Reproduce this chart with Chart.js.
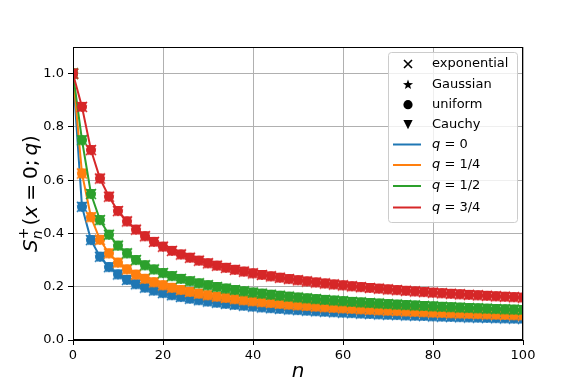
<!DOCTYPE html>
<html>
<head>
<meta charset="utf-8">
<script src="https://cdn.jsdelivr.net/npm/chart.js@4.4.0/dist/chart.umd.min.js"></script>
<style>
  html, body { margin: 0; padding: 0; background: #fff; }
  #wrap { width: 581px; height: 388px; }
</style>
</head>
<body>
<div id="wrap"><canvas id="survival" width="581" height="388"></canvas></div>
<script>
// --- data: survival probability S_n^+(x=0;q), sampled at even n ---
const nSteps = [0, 2, 4, 6, 8, 10, 12, 14, 16, 18, 20, 22, 24, 26, 28, 30, 32, 34, 36, 38, 40,
  42, 44, 46, 48, 50, 52, 54, 56, 58, 60, 62, 64, 66, 68, 70, 72, 74, 76, 78, 80,
  82, 84, 86, 88, 90, 92, 94, 96, 98, 100];

const survivalQ0 = [1, 0.5, 0.375, 0.3125, 0.2734, 0.2461, 0.2256, 0.2095, 0.1964, 0.1855, 0.1762,
  0.1682, 0.1612, 0.1550, 0.1494, 0.1445, 0.1400, 0.1358, 0.1321, 0.1286, 0.1254,
  0.1224, 0.1196, 0.1170, 0.1146, 0.1123, 0.1101, 0.1081, 0.1061, 0.1043, 0.1026,
  0.1009, 0.0993, 0.0978, 0.0964, 0.0950, 0.0937, 0.0924, 0.0912, 0.0901, 0.0889,
  0.0878, 0.0868, 0.0858, 0.0848, 0.0839, 0.0830, 0.0821, 0.0812, 0.0804, 0.0796];

const survivalQ14 = [1, 0.625, 0.4609, 0.3760, 0.3248, 0.2902, 0.2649, 0.2452, 0.2295, 0.2164, 0.2053,
  0.1958, 0.1875, 0.1802, 0.1737, 0.1678, 0.1625, 0.1577, 0.1532, 0.1492, 0.1454,
  0.1419, 0.1387, 0.1356, 0.1328, 0.1301, 0.1276, 0.1252, 0.1229, 0.1208, 0.1188,
  0.1169, 0.1150, 0.1133, 0.1116, 0.1100, 0.1085, 0.1070, 0.1056, 0.1042, 0.1029,
  0.1016, 0.1004, 0.0993, 0.0981, 0.0970, 0.0960, 0.0949, 0.0940, 0.0930, 0.0921];

const survivalQ12 = [1, 0.75, 0.548, 0.450, 0.395, 0.354, 0.325, 0.300, 0.2803, 0.2645, 0.2511,
  0.2396, 0.2294, 0.2205, 0.2125, 0.2054, 0.1989, 0.1930, 0.1876, 0.1826, 0.1780,
  0.1738, 0.1697, 0.1661, 0.1626, 0.1593, 0.1562, 0.1533, 0.1506, 0.1479, 0.1455,
  0.1431, 0.1409, 0.1387, 0.1366, 0.1347, 0.1328, 0.1310, 0.1293, 0.1277, 0.1261,
  0.1245, 0.1230, 0.1215, 0.1201, 0.1188, 0.1175, 0.1163, 0.1151, 0.1139, 0.1128];

const survivalQ34 = [1, 0.875, 0.713, 0.606, 0.538, 0.484, 0.445, 0.414, 0.3895, 0.3683, 0.3502,
  0.3345, 0.3208, 0.3086, 0.2977, 0.2879, 0.2789, 0.2708, 0.2634, 0.2565, 0.2501,
  0.2442, 0.2387, 0.2335, 0.2287, 0.2241, 0.2198, 0.2158, 0.2120, 0.2083, 0.2049,
  0.2015, 0.1984, 0.1954, 0.1925, 0.1898, 0.1872, 0.1846, 0.1822, 0.1799, 0.1776,
  0.1755, 0.1734, 0.1714, 0.1694, 0.1676, 0.1657, 0.1640, 0.1623, 0.1606, 0.1590];

const qLabels = ['0', '1/4', '1/2', '3/4'];
const qSeries = [survivalQ0, survivalQ14, survivalQ12, survivalQ34];
const distLabels = ['exponential', 'Gaussian', 'uniform', 'Cauchy'];

const qColors = ['#1f77b4', '#ff7f0e', '#2ca02c', '#d62728'];
const FAMILY = '"DejaVu Sans", sans-serif';
const distShapes = ['x', 'star', 'circle', 'tridown'];

function drawStar(ctx, x, y, ro, ri) {
  ctx.beginPath();
  for (let k = 0; k < 10; k++) {
    const r = k % 2 === 0 ? ro : ri;
    const a = -Math.PI / 2 + k * Math.PI / 5;
    const px = x + r * Math.cos(a), py = y + r * Math.sin(a);
    if (k === 0) ctx.moveTo(px, py); else ctx.lineTo(px, py);
  }
  ctx.closePath();
  ctx.fill();
}

// matplotlib-like marker glyphs (x, *, o, v), usable as Chart.js point styles
function paintMarker(ctx, shape, cx, cy, s) {
  if (shape === 'x') {
    ctx.lineWidth = 1.6;
    ctx.beginPath();
    ctx.moveTo(cx - s, cy - s); ctx.lineTo(cx + s, cy + s);
    ctx.moveTo(cx + s, cy - s); ctx.lineTo(cx - s, cy + s);
    ctx.stroke();
  } else if (shape === 'star') {
    drawStar(ctx, cx, cy + 0.5, s * 1.15, s * 0.47);
  } else if (shape === 'circle') {
    ctx.beginPath();
    ctx.arc(cx, cy, s, 0, Math.PI * 2);
    ctx.fill();
  } else {
    ctx.beginPath();
    ctx.moveTo(cx - s, cy - s);
    ctx.lineTo(cx + s, cy - s);
    ctx.lineTo(cx, cy + s);
    ctx.closePath();
    ctx.fill();
  }
}

function makeMarker(shape, color) {
  const c = document.createElement('canvas');
  c.width = 14; c.height = 14;
  const g = c.getContext('2d');
  g.fillStyle = color;
  g.strokeStyle = color;
  paintMarker(g, shape, 7, 7, 5);
  return c;
}

function toPoints(values) {
  return nSteps.map((n, i) => ({ x: n, y: values[i] }));
}

const datasets = [];
qSeries.forEach((values, qi) => {
  const color = qColors[qi];
  const layer = (3 - qi) * 10; // q = 3/4 ends up on top
  datasets.push({
    label: 'q = ' + qLabels[qi],
    data: toPoints(values),
    borderColor: color,
    backgroundColor: color,
    borderWidth: 2,
    pointRadius: 0,
    tension: 0,
    order: layer + 5
  });
  distShapes.forEach((shape, di) => {
    datasets.push({
      label: distLabels[di] + ' ' + qLabels[qi],
      data: toPoints(values),
      showLine: false,
      borderColor: color,
      backgroundColor: color,
      pointStyle: makeMarker(shape, color),
      pointRadius: 7,
      order: layer + 4 - di
    });
  });
});

// ---- frame, axis titles and in-plot legend ----
function drawYTitle(ctx, cx, cy) {
  const big = 20, small = 14;
  const it = (s) => `italic ${s}px ${FAMILY}`;
  const rm = (s) => `${s}px ${FAMILY}`;
  const runs = [
    { t: 'S', f: it(big), dy: 0 },
    { t: 'n', f: it(small), dy: 5, stackWith: { t: '+', f: rm(small), dy: -9 } },
    { t: '(', f: rm(big), dy: 0, pre: 2 },
    { t: 'x', f: it(big), dy: 0 },
    { t: '=', f: rm(big), dy: 0, pre: 5, post: 5 },
    { t: '0', f: rm(big), dy: 0 },
    { t: ';', f: rm(big), dy: 0, post: 4 },
    { t: 'q', f: it(big), dy: 0 },
    { t: ')', f: rm(big), dy: 0 }
  ];
  let total = 0;
  runs.forEach(r => {
    ctx.font = r.f;
    let w = ctx.measureText(r.t).width;
    if (r.stackWith) {
      ctx.font = r.stackWith.f;
      w = Math.max(w, ctx.measureText(r.stackWith.t).width);
    }
    r.w = w;
    total += (r.pre || 0) + w + (r.post || 0);
  });
  ctx.save();
  ctx.translate(cx, cy);
  ctx.rotate(-Math.PI / 2);
  ctx.fillStyle = '#000';
  ctx.textBaseline = 'alphabetic';
  ctx.textAlign = 'left';
  let x = -total / 2;
  const base = 7;
  runs.forEach(r => {
    x += r.pre || 0;
    ctx.font = r.f;
    ctx.fillText(r.t, x, base + r.dy);
    if (r.stackWith) {
      ctx.font = r.stackWith.f;
      ctx.fillText(r.stackWith.t, x, base + r.stackWith.dy);
    }
    x += r.w + (r.post || 0);
  });
  ctx.restore();
}

function drawLegend(ctx) {
  const left = 388, top = 52, right = 517, bottom = 222;
  ctx.save();
  ctx.fillStyle = 'rgba(255,255,255,0.8)';
  ctx.strokeStyle = '#cccccc';
  ctx.lineWidth = 1;
  ctx.beginPath();
  ctx.roundRect(left + 0.5, top + 0.5, right - left, bottom - top, 3);
  ctx.fill();
  ctx.stroke();

  const rowY = [64, 84.3, 104.7, 124.7, 144.5, 165, 186, 207.5];
  const symX = 408, textX = 432;
  ctx.fillStyle = '#000';
  ctx.strokeStyle = '#000';
  distShapes.forEach((shape, i) => paintMarker(ctx, shape, symX, rowY[i], shape === 'x' ? 4 : 4.6));

  ctx.font = `13px ${FAMILY}`;
  ctx.textBaseline = 'middle';
  ctx.textAlign = 'left';
  distLabels.forEach((lab, i) => ctx.fillText(lab, textX, rowY[i]));

  qLabels.forEach((lab, i) => {
    const y = rowY[4 + i];
    ctx.strokeStyle = qColors[i];
    ctx.lineWidth = 2;
    ctx.beginPath();
    ctx.moveTo(393, y); ctx.lineTo(421, y);
    ctx.stroke();
    ctx.fillStyle = '#000';
    ctx.font = `italic 13px ${FAMILY}`;
    ctx.fillText('q', textX, y);
    const w = ctx.measureText('q').width;
    ctx.font = `13px ${FAMILY}`;
    ctx.fillText(' = ' + lab, textX + w, y);
  });
  ctx.restore();
}

const decorations = {
  id: 'decorations',
  afterDraw(chart) {
    const { ctx, chartArea } = chart;
    ctx.save();
    ctx.strokeStyle = '#000';
    ctx.lineWidth = 1;
    ctx.strokeRect(Math.round(chartArea.left) + 0.5, Math.round(chartArea.top) + 0.5,
      Math.round(chartArea.right - chartArea.left) - 1, Math.round(chartArea.bottom - chartArea.top) - 1);
    ctx.restore();

    // x title
    ctx.save();
    ctx.fillStyle = '#000';
    ctx.font = `italic 20px ${FAMILY}`;
    ctx.textAlign = 'center';
    ctx.textBaseline = 'middle';
    ctx.fillText('n', (chartArea.left + chartArea.right) / 2, 372);
    ctx.restore();

    drawYTitle(ctx, 30, (chartArea.top + chartArea.bottom) / 2);
    drawLegend(ctx);
  }
};

new Chart(document.getElementById('survival').getContext('2d'), {
  type: 'line',
  data: { datasets: datasets },
  options: {
    responsive: false,
    animation: false,
    devicePixelRatio: 1,
    layout: { padding: { left: 0, right: 58, top: 47, bottom: 0 } },
    plugins: { legend: { display: false }, tooltip: { enabled: false } },
    scales: {
      x: {
        type: 'linear',
        min: 0,
        max: 100,
        afterFit(scale) { scale.height = 48; },
        ticks: { stepSize: 20, color: '#000', font: { family: FAMILY, size: 13 }, padding: 3, maxRotation: 0 },
        grid: { color: '#b0b0b0', lineWidth: 1, tickColor: '#000', tickLength: 5, tickWidth: 1 },
        border: { color: '#000', width: 1 }
      },
      y: {
        min: 0,
        max: 1.1,
        afterFit(scale) { scale.width = 73; },
        afterBuildTicks(scale) { scale.ticks = scale.ticks.filter(t => t.value <= 1.0001); },
        ticks: {
          stepSize: 0.2,
          color: '#000',
          font: { family: FAMILY, size: 13 },
          padding: 4,
          callback: (v) => v.toFixed(1)
        },
        grid: { color: '#b0b0b0', lineWidth: 1, tickColor: '#000', tickLength: 5, tickWidth: 1 },
        border: { color: '#000', width: 1 }
      }
    }
  },
  plugins: [decorations]
});
</script>
</body>
</html>
